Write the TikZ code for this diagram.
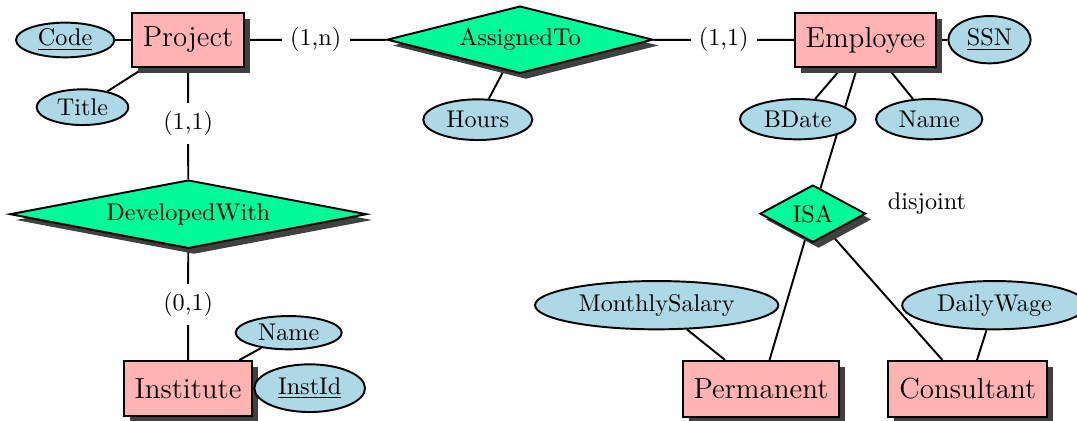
\documentclass[tikz,border=0pt]{standalone}
\usetikzlibrary{shapes.geometric,shadows,backgrounds}

\definecolor{entityfill}{RGB}{255,179,179}
\definecolor{relfill}{RGB}{0,250,154}
\definecolor{attrfill}{RGB}{173,216,230}

\tikzset{
  dims/.style 2 args={minimum width=#1*0.4132pt, minimum height=#2*0.4132pt},
  outlined/.style={draw=black, thick, inner sep=0pt},
  castshadow/.style={drop shadow={fill=black!75, opacity=1,
      shadow xshift=2.4pt, shadow yshift=-2.4pt}},
  entity/.style={outlined, rectangle, fill=entityfill, castshadow, font=\large},
  relation/.style={outlined, diamond, fill=relfill, castshadow},
  attribute/.style={outlined, ellipse, fill=attrfill},
  card/.style={fill=white, inner sep=3.4pt},
  conn/.style={thick},
}

\begin{document}
\begin{tikzpicture}[x=0.4132pt, y=-0.4132pt]
  \useasboundingbox (0,0) rectangle (1077,421);

  % entities
  \node[entity, dims={112}{54}]     (project)    at (188,40)    {Project};
  \node[entity, dims={141}{54}]     (employee)   at (865.5,40)  {Employee};
  \node[entity, dims={128}{55}]     (institute)  at (188,388.5) {Institute};
  \node[entity, dims={156.6}{55.7}] (permanent)  at (761,388.8) {Permanent};
  \node[entity, dims={159}{55.7}]   (consultant) at (967.8,388.8) {Consultant};

  % relationships
  \node[relation, shape aspect=4, dims={266}{67.3}]    (assigned)  at (520,39.7)    {AssignedTo};
  \node[relation, shape aspect=4, dims={356.7}{68.3}]  (developed) at (188.3,214.2) {DevelopedWith};
  \node[relation, shape aspect=2, dims={105.7}{57.3}]  (isa)       at (812.8,213.7) {ISA};

  % attributes
  \node[attribute, dims={98.3}{34.7}]  (code)     at (65.2,40)     {\underline{Code}};
  \node[attribute, dims={91.7}{35.7}]  (title)    at (82.5,107.2)  {Title};
  \node[attribute, dims={109}{40.7}]   (hours)    at (477.8,119.7) {Hours};
  \node[attribute, dims={115.7}{40.3}] (bdate)    at (797.8,119.2) {BDate};
  \node[attribute, dims={106.3}{40.3}] (empname)  at (929.2,119.2) {Name};
  \node[attribute, dims={82.3}{47.3}]  (ssn)      at (989.5,39.7)  {\underline{SSN}};
  \node[attribute, dims={106}{33.3}]   (instname) at (288.7,332.7) {Name};
  \node[attribute, dims={110.7}{47.7}] (instid)   at (309.7,388.2) {\underline{InstId}};
  \node[attribute, dims={243.3}{48.3}] (salary)   at (656.7,305.2) {MonthlySalary};
  \node[attribute, dims={184.6}{48.3}] (wage)     at (994.5,305.2) {DailyWage};

  % generalisation constraint
  \node (disjoint) at (927,203.5) {disjoint};

  % connectors, kept behind the shapes
  \begin{scope}[on background layer]
    \draw[conn] (code) -- (project);
    \draw[conn] (title) -- (project);
    \draw[conn] (project) -- node[card] {(1,n)} (assigned);
    \draw[conn] (assigned) -- node[card] {(1,1)} (employee);
    \draw[conn] (assigned) -- (hours);
    \draw[conn] (project) -- node[card] {(1,1)} (developed);
    \draw[conn] (developed) -- node[card] {(0,1)} (institute);
    \draw[conn] (institute) -- (instname);
    \draw[conn] (institute) -- (instid);
    \draw[conn] (employee) -- (ssn);
    \draw[conn] (employee) -- (bdate);
    \draw[conn] (employee) -- (empname);
    \draw[conn] (employee) -- (isa);
    \draw[conn] (isa) -- (permanent);
    \draw[conn] (isa) -- (consultant);
    \draw[conn] (salary) -- (permanent);
    \draw[conn] (wage) -- (consultant);
  \end{scope}
\end{tikzpicture}
\end{document}
